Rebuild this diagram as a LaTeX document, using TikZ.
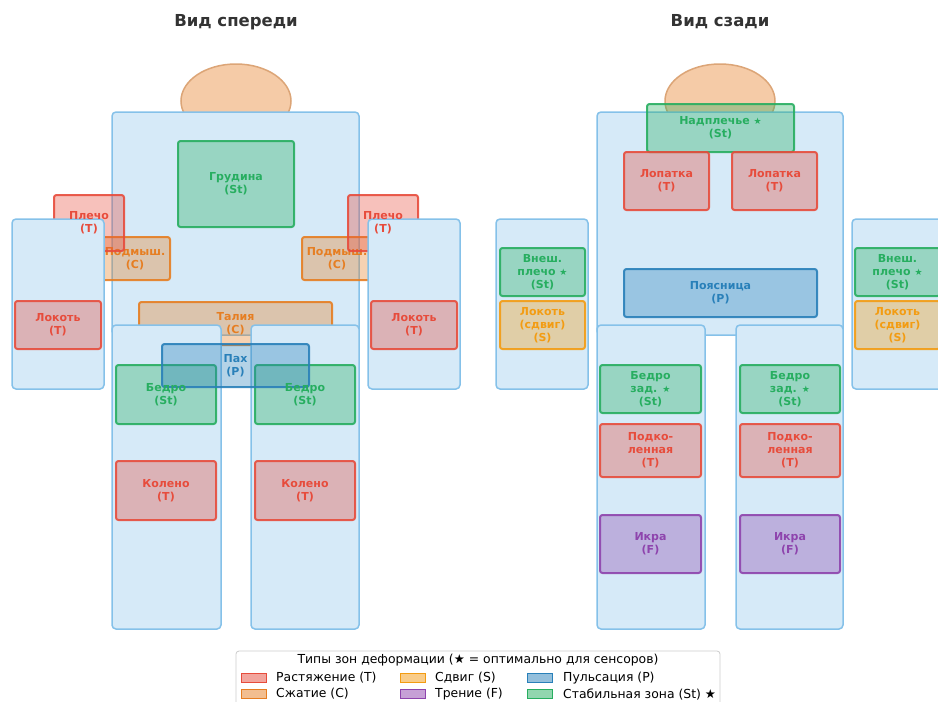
\documentclass[tikz,border=0pt]{standalone}
\usepackage{fontspec}
\setmainfont{DejaVu Sans}
\newfontfamily\symfont{DejaVu Sans}
\usetikzlibrary{shapes.geometric}
\definecolor{cT}{HTML}{E74C3C}
\definecolor{cC}{HTML}{E67E22}
\definecolor{cS}{HTML}{F39C12}
\definecolor{cP}{HTML}{2980B9}
\definecolor{cF}{HTML}{8E44AD}
\definecolor{cSt}{HTML}{27AE60}
\definecolor{bodyfill}{HTML}{D6EAF8}
\definecolor{bodyedge}{HTML}{85C1E9}
\definecolor{headfill}{HTML}{F5CBA7}
\definecolor{headedge}{HTML}{DCA577}
\newcommand{\zstar}{{\mdseries\symfont\fontsize{9}{9}\selectfont ★}}
\begin{document}
\begin{tikzpicture}[x=1pt, y=-1pt,
    body/.style={draw=bodyedge, fill=bodyfill, line width=1.5pt, rounded corners=4pt, inner sep=0pt},
    head/.style={ellipse, draw=headedge, fill=headfill, line width=1.5pt, inner sep=0pt},
    zone/.style={draw=#1, fill=#1, fill opacity=.35, draw opacity=.9, line width=2pt, rounded corners=2.5pt, inner sep=0pt},
    lbl/.style={text=#1, font=\bfseries\fontsize{11}{13}\selectfont, align=center, inner sep=0pt},
    viewtitle/.style={font=\bfseries\fontsize{16.5}{18}\selectfont, text=black!80},
    key/.style={draw=#1, fill=#1, fill opacity=.5, line width=1pt, minimum width=25pt, minimum height=9pt, inner sep=0pt},
    keytext/.style={anchor=west, font=\fontsize{12.4}{14}\selectfont, inner sep=0pt}]
  \useasboundingbox (0,0) rectangle (938,702);
  \clip (0,0) rectangle (938,702);

  \node[viewtitle] (titleF) at (236,22) {Вид спереди};
  \node[viewtitle] (titleB) at (720,22) {Вид сзади};

  \node[head, minimum width=110pt, minimum height=74pt] (headF) at (236,101) {};
  \node[head, minimum width=110pt, minimum height=74pt] (headB) at (720,101) {};
  \node[body, minimum width=247pt, minimum height=223pt] (torsoF) at (235.5,223.5) {};
  \node[body, minimum width=246pt, minimum height=223pt] (torsoB) at (720,223.5) {};

  \node[zone=cSt, minimum width=116pt, minimum height=86pt] (chest) at (236,184) {};
  \node[zone=cC, minimum width=70pt, minimum height=43pt] (axL) at (135,258.5) {};
  \node[zone=cC, minimum width=70pt, minimum height=43pt] (axR) at (337,258.5) {};
  \node[lbl=cC] (axLt) at (axL) {Подмыш.\\(C)};
  \node[lbl=cC] (axRt) at (axR) {Подмыш.\\(C)};
  \node[zone=cT, minimum width=70pt, minimum height=56pt] (shL) at (89,223) {};
  \node[zone=cT, minimum width=70pt, minimum height=56pt] (shR) at (383,223) {};
  \node[zone=cC, minimum width=193pt, minimum height=43pt] (waist) at (235.5,323.5) {};
  \node[lbl=cC] (waistt) at (waist) {Талия\\(C)};
  \node[zone=cSt, minimum width=147pt, minimum height=48pt] (nape) at (720.5,128) {};
  \node[zone=cT, minimum width=85pt, minimum height=58pt] (scapL) at (666.5,181) {};
  \node[zone=cT, minimum width=85pt, minimum height=58pt] (scapR) at (774.5,181) {};
  \node[zone=cP, minimum width=193pt, minimum height=48pt] (lumbar) at (720.5,293) {};

  \node[body, minimum width=92pt, minimum height=170pt] (armFL) at (58,304) {};
  \node[body, minimum width=92pt, minimum height=170pt] (armFR) at (414,304) {};
  \node[body, minimum width=92pt, minimum height=170pt] (armBL) at (542,304) {};
  \node[body, minimum width=92pt, minimum height=170pt] (armBR) at (898,304) {};
  \node[body, minimum width=109pt, minimum height=304pt] (legFL) at (166.5,477) {};
  \node[body, minimum width=108pt, minimum height=304pt] (legFR) at (305,477) {};
  \node[body, minimum width=108pt, minimum height=304pt] (legBL) at (651,477) {};
  \node[body, minimum width=107pt, minimum height=304pt] (legBR) at (789.5,477) {};

  \node[zone=cT, minimum width=86pt, minimum height=48pt] (elbFL) at (58,325) {};
  \node[zone=cT, minimum width=86pt, minimum height=48pt] (elbFR) at (414,325) {};
  \node[zone=cSt, minimum width=100pt, minimum height=59pt] (thighL) at (166,394.5) {};
  \node[zone=cSt, minimum width=100pt, minimum height=59pt] (thighR) at (305,394.5) {};
  \node[zone=cT, minimum width=100pt, minimum height=59pt] (kneeL) at (166,490.5) {};
  \node[zone=cT, minimum width=100pt, minimum height=59pt] (kneeR) at (305,490.5) {};
  \node[zone=cP, minimum width=147pt, minimum height=43pt] (groin) at (235.5,365.5) {};

  \node[zone=cSt, minimum width=85pt, minimum height=48pt] (outL) at (542.5,272) {};
  \node[zone=cSt, minimum width=85pt, minimum height=48pt] (outR) at (897.5,272) {};
  \node[zone=cS, minimum width=85pt, minimum height=48pt] (shearL) at (542.5,325) {};
  \node[zone=cS, minimum width=85pt, minimum height=48pt] (shearR) at (897.5,325) {};
  \node[zone=cSt, minimum width=101pt, minimum height=48pt] (hamL) at (650.5,389) {};
  \node[zone=cSt, minimum width=100pt, minimum height=48pt] (hamR) at (790,389) {};
  \node[zone=cT, minimum width=101pt, minimum height=53pt] (popL) at (650.5,450.5) {};
  \node[zone=cT, minimum width=100pt, minimum height=53pt] (popR) at (790,450.5) {};
  \node[zone=cF, minimum width=101pt, minimum height=58pt] (calfL) at (650.5,544) {};
  \node[zone=cF, minimum width=100pt, minimum height=58pt] (calfR) at (790,544) {};

  \node[lbl=cSt] (chestt) at (chest) {Грудина\\(St)};
  \node[lbl=cT] (shLt) at (shL) {Плечо\\(T)};
  \node[lbl=cT] (shRt) at (shR) {Плечо\\(T)};
  \node[lbl=cT] (elbFLt) at (elbFL) {Локоть\\(T)};
  \node[lbl=cT] (elbFRt) at (elbFR) {Локоть\\(T)};
  \node[lbl=cP] (groint) at (groin) {Пах\\(P)};
  \node[lbl=cSt] (thighLt) at (thighL) {Бедро\\(St)};
  \node[lbl=cSt] (thighRt) at (thighR) {Бедро\\(St)};
  \node[lbl=cT] (kneeLt) at (kneeL) {Колено\\(T)};
  \node[lbl=cT] (kneeRt) at (kneeR) {Колено\\(T)};
  \node[lbl=cSt] (napet) at (nape) {Надплечье \zstar\\(St)};
  \node[lbl=cT] (scapLt) at (scapL) {Лопатка\\(T)};
  \node[lbl=cT] (scapRt) at (scapR) {Лопатка\\(T)};
  \node[lbl=cP] (lumbart) at (lumbar) {Поясница\\(P)};
  \node[lbl=cSt] (outLt) at (outL) {Внеш.\\плечо \zstar\\(St)};
  \node[lbl=cSt] (outRt) at (outR) {Внеш.\\плечо \zstar\\(St)};
  \node[lbl=cS] (shearLt) at (shearL) {Локоть\\(сдвиг)\\(S)};
  \node[lbl=cS] (shearRt) at (shearR) {Локоть\\(сдвиг)\\(S)};
  \node[lbl=cSt] (hamLt) at (hamL) {Бедро\\зад. \zstar\\(St)};
  \node[lbl=cSt] (hamRt) at (hamR) {Бедро\\зад. \zstar\\(St)};
  \node[lbl=cT] (popLt) at (popL) {Подко-\\ленная\\(T)};
  \node[lbl=cT] (popRt) at (popR) {Подко-\\ленная\\(T)};
  \node[lbl=cF] (calfLt) at (calfL) {Икра\\(F)};
  \node[lbl=cF] (calfRt) at (calfR) {Икра\\(F)};

  \node[draw=black!20, fill=white, fill opacity=.8, line width=.8pt, rounded corners=3pt, minimum width=484pt, minimum height=70pt, inner sep=0pt] (legend) at (478,686) {};
  \node[font=\fontsize{12.4}{14}\selectfont, inner sep=0pt] (legendtitle) at (478,660) {Типы зон деформации (★ = оптимально для сенсоров)};
  \node[key=cT] (kT) at (253.5,678) {};
  \node[key=cC] (kC) at (253.5,694) {};
  \node[key=cS] (kS) at (413,678) {};
  \node[key=cF] (kF) at (413,694) {};
  \node[key=cP] (kP) at (540,678) {};
  \node[key=cSt] (kSt) at (540,694) {};
  \node[keytext] (kTt) at (276,678) {Растяжение (T)};
  \node[keytext] (kCt) at (276,694) {Сжатие (C)};
  \node[keytext] (kSt) at (435,678) {Сдвиг (S)};
  \node[keytext] (kFt) at (435,694) {Трение (F)};
  \node[keytext] (kPt) at (563,678) {Пульсация (P)};
  \node[keytext] (kStt) at (563,694) {Стабильная зона (St) ★};
\end{tikzpicture}
\end{document}
